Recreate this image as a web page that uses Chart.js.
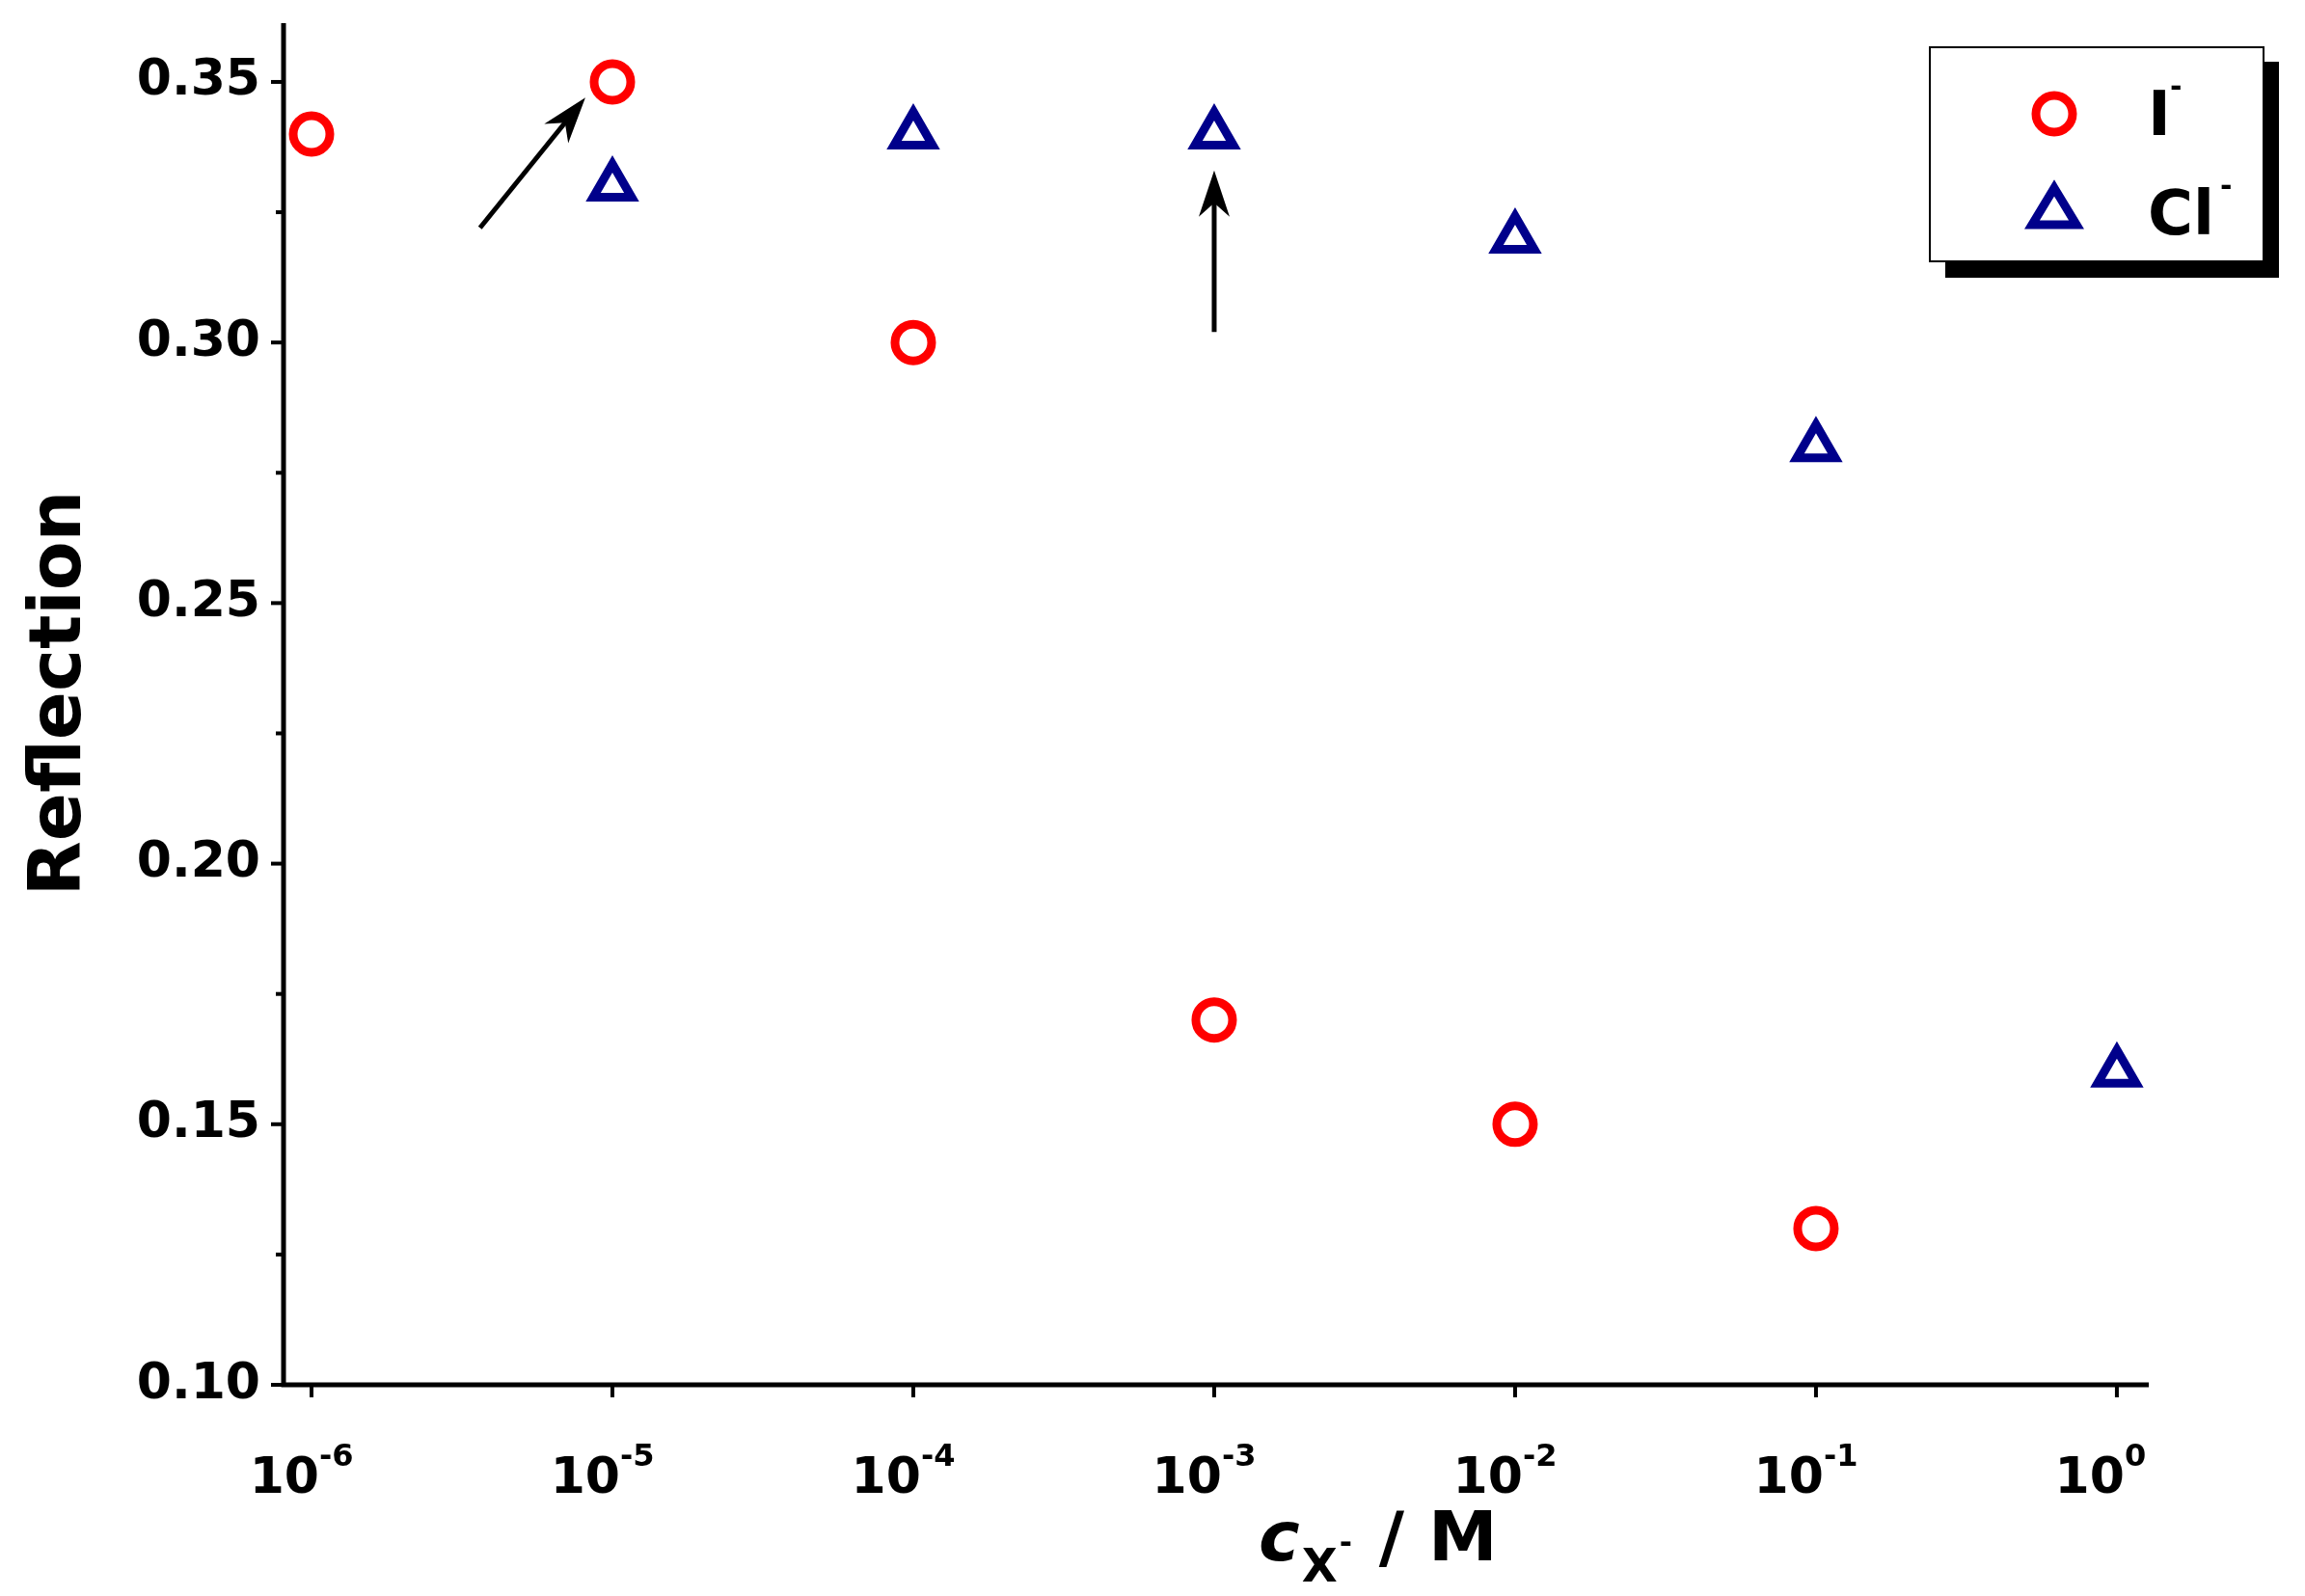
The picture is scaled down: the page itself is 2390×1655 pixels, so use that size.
<!DOCTYPE html>
<html><head><meta charset="utf-8">
<script src="https://cdn.jsdelivr.net/npm/chart.js@4"></script>
<style>html,body{margin:0;padding:0;background:#fff}#w{width:2390px;height:1655px}</style>
</head><body><div id="w"><canvas id="c"></canvas></div>
<script>
const xExp=[-6,-5,-4,-3,-2,-1,0];
const iExp=[-6,-5,-4,-3,-2,-1];
const iVals=[0.34,0.35,0.30,0.17,0.15,0.13];
const clExp=[-5,-4,-3,-2,-1,0];
const clVals=[0.33,0.34,0.34,0.32,0.28,0.16];
const yTicks=[0.10,0.15,0.20,0.25,0.30,0.35];
const yMinor=[0.125,0.175,0.225,0.275,0.325];
const arrows=[[-5.44,0.322,-5.09,0.347],[-3,0.302,-3,0.333]];
const F='"DejaVu Sans",Arial,sans-serif';
const deco={id:'deco',afterDraw(ch){
 const c=ch.ctx,x=ch.scales.x,y=ch.scales.y,a=ch.chartArea;
 c.save();c.strokeStyle='#000';c.fillStyle='#000';c.lineWidth=5;
 c.beginPath();c.moveTo(a.left,a.top-8);c.lineTo(a.left,a.bottom);c.lineTo(a.right,a.bottom);c.stroke();
 c.lineWidth=4;
 yTicks.forEach(v=>{const p=y.getPixelForValue(v);c.beginPath();c.moveTo(a.left-13,p);c.lineTo(a.left,p);c.stroke();});
 yMinor.forEach(v=>{const p=y.getPixelForValue(v);c.beginPath();c.moveTo(a.left-8,p);c.lineTo(a.left,p);c.stroke();});
 xExp.forEach(v=>{const p=x.getPixelForValue(v);c.beginPath();c.moveTo(p,a.bottom);c.lineTo(p,a.bottom+13);c.stroke();});
 c.font='bold 52px '+F;c.textAlign='right';c.textBaseline='middle';
 yTicks.forEach(v=>c.fillText(v.toFixed(2),a.left-24,y.getPixelForValue(v)));
 xExp.forEach(v=>{const p=x.getPixelForValue(v);c.font='bold 52px '+F;c.textAlign='right';c.textBaseline='alphabetic';
  c.fillText('10',p+8,a.bottom+112);c.font='bold 32px '+F;c.textAlign='left';c.fillText(String(v),p+8,a.bottom+84);});
 c.save();c.translate(64,(a.top+a.bottom)/2-15);c.rotate(-Math.PI/2);c.font='bold 74px '+F;c.textAlign='center';c.textBaseline='middle';c.fillText('Reflection',0,0);c.restore();
 let tx=1305,ty=1618;c.textAlign='left';c.textBaseline='alphabetic';
 c.font='bold italic 72px '+F;c.fillText('c',tx,ty);tx+=c.measureText('c').width+2;
 c.font='bold 48px '+F;c.fillText('X',tx,ty+22);tx+=c.measureText('X').width;
 c.font='bold 32px '+F;c.fillText('-',tx+2,ty-8);tx+=18;
 c.font='bold 72px '+F;c.fillText(' / M',tx,ty);
 c.lineWidth=5;
 arrows.forEach(([x1,y1,x2,y2])=>{const X1=x.getPixelForValue(x1),Y1=y.getPixelForValue(y1),X2=x.getPixelForValue(x2),Y2=y.getPixelForValue(y2);
  const ang=Math.atan2(Y2-Y1,X2-X1),L=48,W=16;
  c.beginPath();c.moveTo(X1,Y1);c.lineTo(X2-Math.cos(ang)*30,Y2-Math.sin(ang)*30);c.stroke();
  c.beginPath();c.moveTo(X2,Y2);c.lineTo(X2-L*Math.cos(ang)+W*Math.sin(ang),Y2-L*Math.sin(ang)-W*Math.cos(ang));
  c.lineTo(X2-L*0.7*Math.cos(ang),Y2-L*0.7*Math.sin(ang));
  c.lineTo(X2-L*Math.cos(ang)-W*Math.sin(ang),Y2-L*Math.sin(ang)+W*Math.cos(ang));c.closePath();c.fill();});
 c.fillRect(2017,64,346,224);c.fillStyle='#fff';c.fillRect(2001,49,346,222);
 c.lineWidth=2;c.strokeRect(2001,49,346,222);
 c.lineWidth=9;c.strokeStyle='#ff0000';c.beginPath();c.arc(2130,118,19,0,2*Math.PI);c.stroke();
 c.strokeStyle='#00008b';c.beginPath();c.moveTo(2130,195);c.lineTo(2153,233);c.lineTo(2107,233);c.closePath();c.stroke();
 c.fillStyle='#000';c.font='bold 64px '+F;c.textAlign='left';c.textBaseline='alphabetic';
 c.fillText('I',2227,140);c.fillText('Cl',2227,243);c.font='bold 30px '+F;c.fillText('-',2250,100);c.fillText('-',2302,203);
 c.restore();}};
new Chart(document.getElementById('c'),{type:'scatter',
 data:{datasets:[
  {label:'I-',data:iExp.map((e,i)=>({x:e,y:iVals[i]})),pointStyle:'circle',pointRadius:19,borderColor:'#ff0000',backgroundColor:'rgba(0,0,0,0)',borderWidth:9},
  {label:'Cl-',data:clExp.map((e,i)=>({x:e,y:clVals[i]})),pointStyle:'triangle',pointRadius:23,borderColor:'#00008b',backgroundColor:'rgba(0,0,0,0)',borderWidth:9}]},
 options:{responsive:true,maintainAspectRatio:false,animation:false,
  layout:{padding:{left:294,top:23,right:162,bottom:219}},
  plugins:{legend:{display:false},tooltip:{enabled:false}},
  scales:{x:{type:'linear',min:-6.093,max:0.106,display:false},y:{min:0.10,max:0.3598,display:false}}},
 plugins:[deco]});
</script></body></html>
